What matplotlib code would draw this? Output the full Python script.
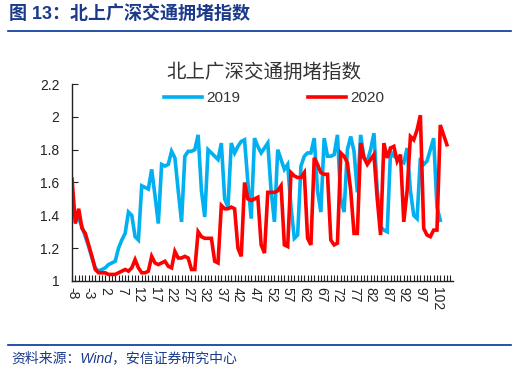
import numpy as np
import matplotlib
matplotlib.use("Agg")
import matplotlib.pyplot as plt
from matplotlib.ticker import MultipleLocator, FixedLocator

plt.rcParams['font.family'] = ['Liberation Sans', 'Noto Sans CJK SC', 'DejaVu Sans']

# day index relative to the holiday, -8 .. 104
y2019 = [1.45, 1.40, 1.38, 1.33, 1.27, 1.21, 1.14, 1.08,
         1.06, 1.07, 1.08, 1.10, 1.11, 1.12, 1.20, 1.25, 1.29, 1.42,
         1.40, 1.27, 1.25, 1.58, 1.57, 1.56, 1.68, 1.52, 1.35, 1.71,
         1.70, 1.71, 1.79, 1.75, 1.55, 1.36, 1.76, 1.79, 1.79, 1.80,
         1.89, 1.55, 1.39, 1.80, 1.78, 1.76, 1.74, 1.84, 1.50, 1.45,
         1.84, 1.78, 1.82, 1.85, 1.86, 1.60, 1.38, 1.87, 1.82, 1.78,
         1.81, 1.84, 1.55, 1.36, 1.80, 1.74, 1.68, 1.71, 1.45, 1.26,
         1.28, 1.70, 1.76, 1.78, 1.78, 1.87, 1.55, 1.42, 1.87, 1.76,
         1.76, 1.77, 1.89, 1.50, 1.42, 1.80, 1.88, 1.79, 1.54, 1.89,
         1.75, 1.73, 1.80, 1.90, 1.55, 1.33, 1.31, 1.30, 1.79, 1.76,
         1.75, 1.73, 1.72, 1.81, 1.55, 1.40, 1.38, 1.75, 1.71, 1.73,
         1.80, 1.87, 1.45, 1.37]
y2020 = [1.62, 1.35, 1.44, 1.32, 1.29, 1.22, 1.15, 1.07,
         1.05, 1.05, 1.05, 1.04, 1.04, 1.04, 1.05, 1.06, 1.07, 1.06,
         1.08, 1.13, 1.08, 1.05, 1.05, 1.06, 1.15, 1.11, 1.10, 1.11,
         1.12, 1.09, 1.08, 1.18, 1.14, 1.14, 1.15, 1.14, 1.07, 1.07,
         1.30, 1.27, 1.26, 1.26, 1.26, 1.12, 1.11, 1.46, 1.44, 1.44,
         1.45, 1.44, 1.20, 1.15, 1.60, 1.50, 1.49, 1.50, 1.51, 1.22,
         1.17, 1.54, 1.54, 1.54, 1.55, 1.58, 1.22, 1.21, 1.66, 1.64,
         1.63, 1.63, 1.66, 1.26, 1.22, 1.75, 1.71, 1.66, 1.65, 1.65,
         1.25, 1.22, 1.23, 1.78, 1.76, 1.72, 1.55, 1.29, 1.29, 1.84,
         1.75, 1.71, 1.74, 1.77, 1.50, 1.28, 1.84, 1.75, 1.81, 1.82,
         1.73, 1.77, 1.36, 1.55, 1.88, 1.86, 1.92, 2.01, 1.32, 1.28,
         1.27, 1.31, 1.31, 1.95, 1.89, 1.83]
x2019 = np.arange(-8, -8 + len(y2019))
x2020 = np.arange(-8, -8 + len(y2020))

header = "图 13：北上广深交通拥堵指数"
chart_title = "北上广深交通拥堵指数"
source = "资料来源：Wind，安信证券研究中心"
yticks = [1, 1.2, 1.4, 1.6, 1.8, 2, 2.2]
xlabels = list(range(-8, 103, 5))

navy = '#1b3a8a'

fig = plt.figure(figsize=(5.26, 3.74), dpi=100)
fig.patch.set_facecolor('white')

# header and source lines
fig.text(0.017, 0.962, header, fontsize=13, fontweight='bold', color=navy,
         va='center', ha='left', family=['Liberation Sans', 'Noto Sans CJK SC'])
fig.add_artist(plt.Line2D([0.015, 0.972], [0.918, 0.918], color='#003399', lw=1.2))
fig.add_artist(plt.Line2D([0.015, 0.972], [0.078, 0.078], color='#003399', lw=1.2))
fig.text(0.022, 0.042, source, fontsize=10, color=navy, style='italic',
         va='center', ha='left')

ax = fig.add_axes([0.137, 0.2487, 0.724, 0.5267])
ax.plot(x2019, y2019, color='#00b0f0', lw=2.6, label='2019', solid_joinstyle='miter')
ax.plot(x2020, y2020, color='#ff0000', lw=2.6, label='2020', solid_joinstyle='miter')

ax.set_xlim(-8, 106.8)
ax.set_ylim(1, 2.2)
ax.set_yticks(yticks)
ax.set_yticklabels([f'{v:g}' for v in yticks])
ax.xaxis.set_major_locator(FixedLocator(xlabels))
ax.set_xticklabels([str(v) for v in xlabels], rotation=-90)
ax.xaxis.set_minor_locator(MultipleLocator(1))
ax.tick_params(axis='y', direction='in', length=4, width=0.8, labelsize=10, pad=9, colors='#222222')
ax.tick_params(axis='x', which='both', direction='in', length=4, width=0.8, labelsize=10, pad=4, colors='#222222')
for s in ['top', 'right']:
    ax.spines[s].set_visible(False)
for s in ['left', 'bottom']:
    ax.spines[s].set_color('#222222')
    ax.spines[s].set_linewidth(1.0)

fig.text(0.502, 0.805, chart_title, fontsize=14, color='#333333', ha='center', va='center')
ax.legend(loc='center', bbox_to_anchor=(0.521, 0.738), bbox_transform=fig.transFigure,
          ncol=2, frameon=False, fontsize=11, handlelength=2.5, handletextpad=0.3,
          columnspacing=4.4, labelcolor='#333333')

fig.savefig('out.png', dpi=100)
